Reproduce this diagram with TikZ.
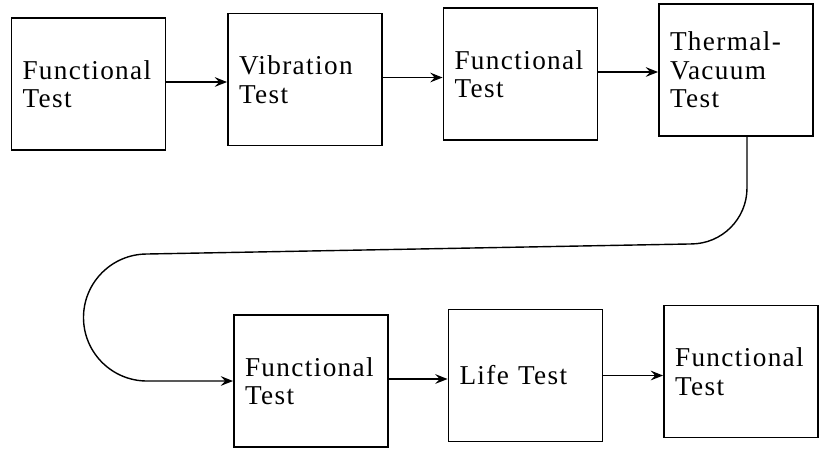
\documentclass[tikz,border=0pt]{standalone}
\usepackage{fontspec}
\setmainfont[LetterSpace=5]{Liberation Serif}
\usepackage{tikz}
\usetikzlibrary{arrows.meta}
\tikzset{testbox/.style={draw, line width=1.1pt, minimum width=3.08cm, minimum height=2.64cm,
  text width=2.64cm, inner xsep=.22cm, align=left, font=\fontsize{15.5}{16.2}\selectfont}}
\tikzset{flow/.style={black, line width=.8pt, ->, >={Stealth[length=7pt, width=5.5pt, inset=2.5pt]}}}

\begin{document}
\begin{tikzpicture} [x=.02cm, y=-.02cm]
\useasboundingbox (0,0) rectangle (821,454);
\node[testbox] (ft1) at (88.5,84) {Functional\\Test};
\node[testbox] (vib) at (305,79.5) {Vibration\\Test};
\node[testbox] (ft2) at (520.5,74) {Functional\\Test};
\node[testbox] (tvac) at (736,70) {Thermal-\\Vacuum\\Test};
\node[testbox] (ft3) at (311,381) {Functional\\Test};
\node[testbox] (life) at (525.5,375.5) {Life Test};
\node[testbox] (ft4) at (741,371.5) {Functional\\Test};

\draw[flow] ([yshift=.04cm]ft1.east) -- ([yshift=.04cm]ft1.east -| vib.west);
\draw[flow] ([yshift=.04cm]vib.east) -- ([yshift=.04cm]vib.east -| ft2.west);
\draw[flow] ([yshift=.04cm]ft2.east) -- ([yshift=.04cm]ft2.east -| tvac.west);
\draw[flow] ([xshift=.22cm]tvac.south) -- ++(0,51) arc[start angle=0, end angle=90, radius=56]
  -- (147,254) arc[start angle=-90, end angle=-270, radius=63.5] -- (ft3.west);
\draw[flow] ([yshift=.04cm]ft3.east) -- ([yshift=.04cm]ft3.east -| life.west);
\draw[flow] (life.east) -- (life.east -| ft4.west);
\end{tikzpicture}
\end{document}
